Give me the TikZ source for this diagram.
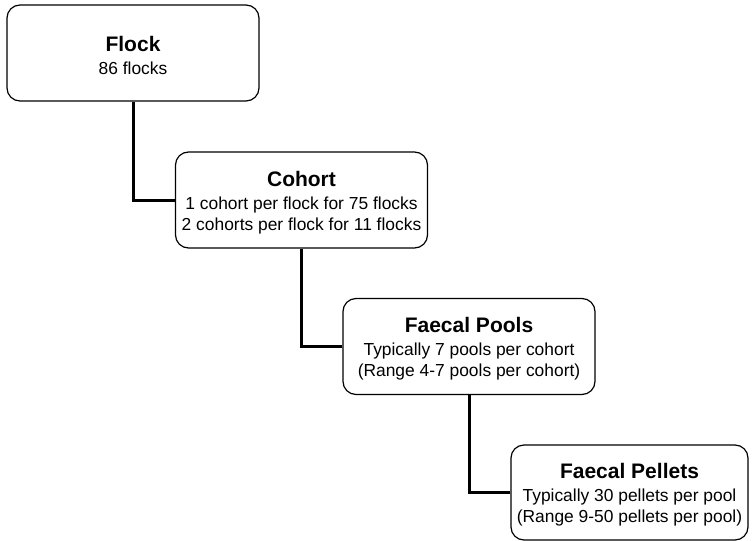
\documentclass[tikz,border=0pt]{standalone}
\usepackage{fontspec}
\setmainfont{Liberation Sans}
\begin{document}
\begin{tikzpicture}[x=1pt,y=-1pt,
  box/.style={draw=black, line width=1.2pt, rounded corners=13pt, fill=white,
    inner sep=0pt},
  txt/.style={align=center, inner sep=0pt, font=\fontsize{17.4}{21}\selectfont, yshift=-2.5pt},
  conn/.style={draw=black, line width=3pt}]
\useasboundingbox[fill=white] (0,0) rectangle (753,541);
\newcommand{\ttl}[1]{{\fontsize{21}{22}\selectfont\bfseries #1}}
\node[box, minimum width=252pt, minimum height=96pt,
  label={[txt]center:{\ttl{Flock}\\[2pt]86 flocks}}] (flock) at (133,53) {};
\node[box, minimum width=252pt, minimum height=96pt,
  label={[txt]center:{\ttl{Cohort}\\[2pt]1 cohort per flock for 75 flocks\\2 cohorts per flock for 11 flocks}}] (cohort) at (301.5,200) {};
\node[box, minimum width=252pt, minimum height=96pt,
  label={[txt]center:{\ttl{Faecal Pools}\\[2pt]Typically 7 pools per cohort\\(Range 4-7 pools per cohort)}}] (pools) at (469,346.5) {};
\node[box, minimum width=237pt, minimum height=95pt,
  label={[txt]center:{\ttl{Faecal Pellets}\\[2pt]Typically 30 pellets per pool\\(Range 9-50 pellets per pool)}}] (pellets) at (629.5,492.5) {};
\draw[conn] (flock.south) |- (cohort.west);
\draw[conn] (cohort.south) |- (pools.west);
\draw[conn] (pools.south) |- (pellets.west);
\end{tikzpicture}
\end{document}
